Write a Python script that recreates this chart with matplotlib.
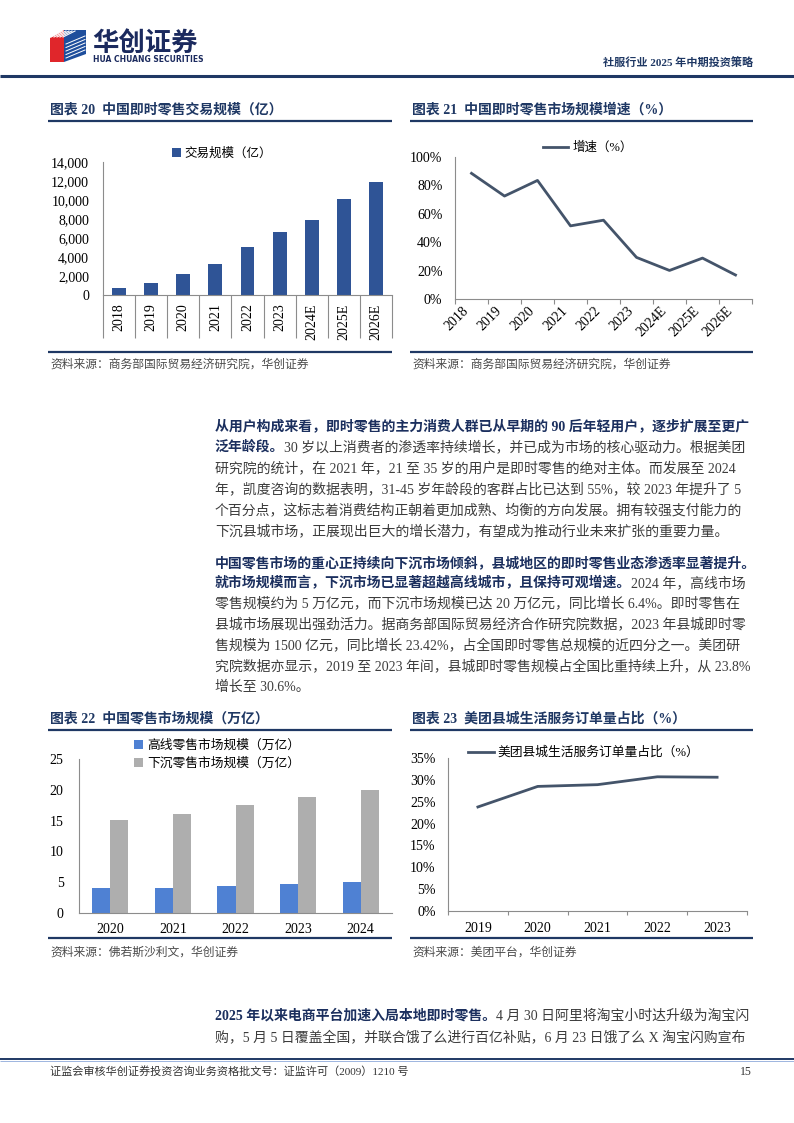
import matplotlib
matplotlib.use('Agg')
import matplotlib.pyplot as plt
import numpy as np
from matplotlib.patches import Polygon
from matplotlib.lines import Line2D
from matplotlib.patches import Patch
from matplotlib.ticker import FuncFormatter, FixedLocator

# ---------------- data ----------------
years20 = ['2018', '2019', '2020', '2021', '2022', '2023', '2024E', '2025E', '2026E']
trade20 = [740, 1230, 2200, 3300, 5100, 6580, 7900, 10100, 11850]
growth21 = [88.5, 72.5, 83.5, 51.5, 55.5, 29.3, 20.1, 28.8, 16.9]
years22 = ['2020', '2021', '2022', '2023', '2024']
high22 = [4.0, 4.1, 4.4, 4.7, 5.0]
sink22 = [15.1, 16.1, 17.6, 18.8, 20.0]
years23 = ['2019', '2020', '2021', '2022', '2023']
share23 = [23.8, 28.5, 28.9, 30.7, 30.6]

W, H = 794, 1123
SERIF = ['Liberation Serif', 'Noto Sans CJK SC']
CJK = ['Noto Sans CJK SC', 'DejaVu Sans']
plt.rcParams['font.family'] = SERIF
plt.rcParams['axes.unicode_minus'] = False

NAVY = '#1F3864'
BOLDC = '#1B2F5E'
BODY = '#3C3C3C'
SRC = '#4A4A4A'
SPINE = '#8C8C8C'
LINEC = '#44546A'

fig = plt.figure(figsize=(W / 100, H / 100), dpi=100)
page = fig.add_axes([0, 0, 1, 1])
page.set_xlim(0, W)
page.set_ylim(H, 0)
page.axis('off')


def axpx(x0, y0, x1, y1):
    a = fig.add_axes([x0 / W, 1 - y1 / H, (x1 - x0) / W, (y1 - y0) / H])
    a.patch.set_alpha(0)
    for s in ['top', 'right']:
        a.spines[s].set_visible(False)
    for s in ['left', 'bottom']:
        a.spines[s].set_color(SPINE)
        a.spines[s].set_linewidth(0.8)
    return a


# ---------------- header ----------------
page.add_patch(Polygon([(50, 38), (64, 30), (64, 62), (50, 62)], closed=True, color='#E0262B', lw=0))
page.add_patch(Polygon([(64, 30), (86, 30), (86, 54), (64, 62)], closed=True, color='#1E4E9C', lw=0))
for k in range(5):
    page.plot([51 + k * 3, 63 + k * 3], [37 - 0 + 0, 31], color='white', lw=0.8)
for k in range(5):
    page.plot([66, 85], [44 + k * 3.5, 36 + k * 3.5], color='white', lw=0.7)
page.text(92, 43, '华创证券', fontsize=19, fontweight='heavy', color='#1B2A5E', va='center', ha='left', family=CJK)
page.text(93, 60, 'HUA CHUANG SECURITIES', fontsize=5.5, fontweight='bold', color='#1B2A5E', va='center', ha='left',
          family=['DejaVu Sans'])
page.text(753, 63, '社服行业 2025 年中期投资策略', fontsize=8, fontweight='bold', color=NAVY, va='center', ha='right')
page.plot([0, W], [75.5, 75.5], color=NAVY, lw=2.2, solid_capstyle='butt')


# ---------------- chart frames ----------------
def frame(x0, x1, ytitle, yline, ybottom, ysrc, title, src):
    page.text(x0 + 2, ytitle, title, fontsize=10, fontweight='bold', color=NAVY, va='center', ha='left')
    page.plot([x0, x1], [yline, yline], color=NAVY, lw=1.6, solid_capstyle='butt')
    page.plot([x0, x1], [ybottom, ybottom], color=NAVY, lw=1.6, solid_capstyle='butt')
    page.text(x0 + 2, ysrc, src, fontsize=8.5, color=SRC, va='center', ha='left', style='italic')


frame(48, 392, 110, 121, 352, 365, '图表 20  中国即时零售交易规模（亿）', '资料来源：商务部国际贸易经济研究院，华创证券')
frame(410, 753, 110, 121, 352, 365, '图表 21  中国即时零售市场规模增速（%）', '资料来源：商务部国际贸易经济研究院，华创证券')
frame(48, 392, 719, 730, 938, 953, '图表 22  中国零售市场规模（万亿）', '资料来源：佛若斯沙利文，华创证券')
frame(410, 753, 719, 730, 938, 953, '图表 23  美团县城生活服务订单量占比（%）', '资料来源：美团平台，华创证券')

# ---------------- chart 20 ----------------
ax = axpx(103, 162, 392, 295)
x = np.arange(len(years20))
ax.bar(x, trade20, width=0.43, color='#2F5496', label='交易规模（亿）')
ax.set_xlim(-0.5, len(years20) - 0.5)
ax.set_ylim(0, 14000)
ax.set_yticks(np.arange(0, 14001, 2000))
ax.yaxis.set_major_formatter(FuncFormatter(lambda v, p: f'{int(v):,}'))
ax.set_xticks(x)
ax.set_xticklabels(years20, rotation=90)
ax.set_xticks(np.arange(-0.5, len(years20)), minor=True)
ax.tick_params(axis='x', which='major', length=0, pad=6, labelsize=10)
ax.tick_params(axis='x', which='minor', length=31, width=0.8, color=SPINE)
ax.tick_params(axis='y', length=0, pad=10, labelsize=10)
ax.legend(loc='center', bbox_to_anchor=(222 / W, 1 - 154 / H), bbox_transform=fig.transFigure, frameon=False,
          handlelength=0.7, handleheight=0.7, handletextpad=0.3, fontsize=9, borderpad=0)

# ---------------- chart 21 ----------------
ax = axpx(455, 157, 752, 299)
x = np.arange(len(years20))
ax.plot(x, growth21, color=LINEC, lw=2, label='增速（%）')
ax.set_xlim(-0.5, len(years20) - 0.5)
ax.set_ylim(0, 100)
ax.set_yticks(np.arange(0, 101, 20))
ax.yaxis.set_major_formatter(FuncFormatter(lambda v, p: f'{int(v)}%'))
ax.set_xticks(x)
ax.set_xticklabels(years20, rotation=45, ha='right')
ax.set_xticks(np.arange(-0.5, len(years20)), minor=True)
ax.tick_params(axis='x', which='major', length=0, pad=4, labelsize=10)
ax.tick_params(axis='x', which='minor', length=3.5, width=0.8, color=SPINE)
ax.tick_params(axis='y', length=0, pad=9, labelsize=10)
ax.legend(loc='center', bbox_to_anchor=(588 / W, 1 - 148 / H), bbox_transform=fig.transFigure, frameon=False,
          handlelength=2.0, handletextpad=0.3, fontsize=9, borderpad=0)

# ---------------- chart 22 ----------------
ax = axpx(79, 759, 392, 913)
x = np.arange(len(years22))
ax.bar(x - 0.145, high22, width=0.29, color='#4F81D3', label='高线零售市场规模（万亿）')
ax.bar(x + 0.145, sink22, width=0.29, color='#AEAEAE', label='下沉零售市场规模（万亿）')
ax.set_xlim(-0.5, len(years22) - 0.5)
ax.set_ylim(0, 25)
ax.set_yticks(np.arange(0, 26, 5))
ax.set_xticks(x)
ax.set_xticklabels(years22)
ax.tick_params(axis='x', length=0, pad=7, labelsize=10)
ax.tick_params(axis='y', length=0, pad=11, labelsize=10)
ax.legend(loc='center left', bbox_to_anchor=(128 / W, 1 - 754.5 / H), bbox_transform=fig.transFigure,
          frameon=False, handlelength=0.7, handleheight=0.7, handletextpad=0.3, fontsize=9.2, borderpad=0,
          labelspacing=0.45)

# ---------------- chart 23 ----------------
ax = axpx(448, 758, 747, 911)
x = np.arange(len(years23))
ax.plot(x, share23, color=LINEC, lw=2, label='美团县城生活服务订单量占比（%）')
ax.set_xlim(-0.5, len(years23) - 0.5)
ax.set_ylim(0, 35)
ax.set_yticks(np.arange(0, 36, 5))
ax.yaxis.set_major_formatter(FuncFormatter(lambda v, p: f'{int(v)}%'))
ax.set_xticks(x)
ax.set_xticklabels(years23)
ax.set_xticks(np.arange(-0.5, len(years23)), minor=True)
ax.tick_params(axis='x', which='major', length=0, pad=8, labelsize=10)
ax.tick_params(axis='x', which='minor', length=3, width=0.8, color=SPINE)
ax.tick_params(axis='y', length=0, pad=9, labelsize=10)
ax.legend(loc='center left', bbox_to_anchor=(462 / W, 1 - 753 / H), bbox_transform=fig.transFigure,
          frameon=False, handlelength=2.0, handletextpad=0.3, fontsize=9.2, borderpad=0)

# ---------------- body text ----------------
renderer = fig.canvas.get_renderer()


def draw_line(y, segments, x0=215):
    xx = x0
    for txt, bold in segments:
        t = page.text(xx, y, txt, fontsize=10, fontweight='bold' if bold else 'normal',
                      color=BOLDC if bold else BODY, va='center', ha='left')
        xx += t.get_window_extent(renderer).width


para1 = [
    (426, [('从用户构成来看，即时零售的主力消费人群已从早期的 90 后年轻用户，逐步扩展至更广', True)]),
    (447, [('泛年龄段。', True), ('30 岁以上消费者的渗透率持续增长，并已成为市场的核心驱动力。根据美团', False)]),
    (468, [('研究院的统计，在 2021 年，21 至 35 岁的用户是即时零售的绝对主体。而发展至 2024', False)]),
    (489, [('年，凯度咨询的数据表明，31-45 岁年龄段的客群占比已达到 55%，较 2023 年提升了 5', False)]),
    (510, [('个百分点，这标志着消费结构正朝着更加成熟、均衡的方向发展。拥有较强支付能力的', False)]),
    (531, [('下沉县城市场，正展现出巨大的增长潜力，有望成为推动行业未来扩张的重要力量。', False)]),
]
para2 = [
    (563, [('中国零售市场的重心正持续向下沉市场倾斜，县城地区的即时零售业态渗透率显著提升。', True)]),
    (583, [('就市场规模而言，下沉市场已显著超越高线城市，且保持可观增速。', True), ('2024 年，高线市场', False)]),
    (603, [('零售规模约为 5 万亿元，而下沉市场规模已达 20 万亿元，同比增长 6.4%。即时零售在', False)]),
    (624, [('县城市场展现出强劲活力。据商务部国际贸易经济合作研究院数据，2023 年县城即时零', False)]),
    (645, [('售规模为 1500 亿元，同比增长 23.42%，占全国即时零售总规模的近四分之一。美团研', False)]),
    (666, [('究院数据亦显示，2019 至 2023 年间，县城即时零售规模占全国比重持续上升，从 23.8%', False)]),
    (687, [('增长至 30.6%。', False)]),
]
para3 = [
    (1016, [('2025 年以来电商平台加速入局本地即时零售。', True), ('4 月 30 日阿里将淘宝小时达升级为淘宝闪', False)]),
    (1037, [('购，5 月 5 日覆盖全国，并联合饿了么进行百亿补贴，6 月 23 日饿了么 X 淘宝闪购宣布', False)]),
]
for y, segs in para1 + para2 + para3:
    draw_line(y, segs)

# ---------------- footer ----------------
page.plot([0, W], [1059, 1059], color=NAVY, lw=1.4, solid_capstyle='butt')
page.plot([0, W], [1060.5, 1060.5], color='#8EA9DB', lw=0.6, solid_capstyle='butt')
page.text(50, 1072, '证监会审核华创证券投资咨询业务资格批文号：证监许可（2009）1210 号', fontsize=8, color='#333333',
          va='center', ha='left')
page.text(752, 1072, '15', fontsize=8.5, color='#333333', va='center', ha='right')

fig.savefig('out.png', dpi=100)
